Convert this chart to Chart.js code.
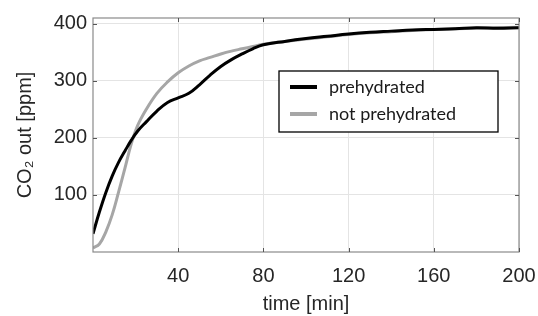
<!DOCTYPE html>
<html><head><meta charset="utf-8">
<script src="https://cdn.jsdelivr.net/npm/chart.js@4/dist/chart.umd.min.js"></script>
<style>html,body{margin:0;padding:0;background:#fff}#w{width:538px;height:316px}</style>
</head><body><div id="w"><canvas id="c" width="538" height="316"></canvas></div>
<script>
const time = [0,3,6,9,12,15,18,21,25,30,35,40,45,50,55,60,65,70,75,80,90,100,110,120,130,140,150,160,170,180,190,200];
const prehydrated = [32,70,104,133,157,177,196,212,228,247,262,270,278,293,310,325,337,347,356,363,369,374,378,382,385,387,389,390,391,393,392,393];
const notPrehydrated = [7,14,35,65,105,147,190,222,250,278,298,314,326,335,341,347,352,356,360,364,369,373,377,381,384,386,388,390,391,392,393,394];
const xTicks = [40,80,120,160,200];
const yTicks = [100,200,300,400];
const seriesNames = ['prehydrated','not prehydrated'];
const seriesColors = ['#000000','#a6a6a6'];

const toPts = v => time.map((t,i)=>({x:t,y:v[i]}));

const frame = {
  id:'frame',
  afterDraw(ch){
    const {ctx, chartArea:a, scales:{x,y}} = ch;
    ctx.save();
    ctx.strokeStyle='#8a8a8a'; ctx.lineWidth=1.2;
    ctx.strokeRect(a.left,a.top,a.right-a.left,a.bottom-a.top);
    ctx.strokeStyle='#555'; ctx.lineWidth=1;
    xTicks.forEach(t=>{const px=Math.round(x.getPixelForValue(t))+0.5;
      ctx.beginPath();ctx.moveTo(px,a.bottom);ctx.lineTo(px,a.bottom-4);ctx.moveTo(px,a.top);ctx.lineTo(px,a.top+4);ctx.stroke();});
    yTicks.forEach(t=>{const py=Math.round(y.getPixelForValue(t))+0.5;
      ctx.beginPath();ctx.moveTo(a.left,py);ctx.lineTo(a.left+4,py);ctx.moveTo(a.right,py);ctx.lineTo(a.right-4,py);ctx.stroke();});
    // legend
    const lx=a.left+186, ly=a.top+53, lw=219, lh=61;
    ctx.fillStyle='#fff'; ctx.fillRect(lx,ly,lw,lh);
    ctx.strokeStyle='#000'; ctx.lineWidth=1.3; ctx.strokeRect(lx,ly,lw,lh);
    ctx.font='18px Lato'; ctx.textBaseline='middle'; ctx.textAlign='left';
    ch.data.datasets.forEach((d,i)=>{
      const cy=ly+16+i*27;
      ctx.strokeStyle=d.borderColor; ctx.lineWidth=4;
      ctx.beginPath();ctx.moveTo(lx+11,cy);ctx.lineTo(lx+38,cy);ctx.stroke();
      ctx.fillStyle='#1a1a1a'; ctx.fillText(d.label,lx+50,cy);
    });
    ctx.restore();
  }
};

new Chart(document.getElementById('c'),{
  type:'line',
  data:{datasets:[
    {label:seriesNames[0],data:toPts(prehydrated),borderColor:seriesColors[0],borderWidth:3,pointRadius:0,tension:0.4,fill:false},
    {label:seriesNames[1],data:toPts(notPrehydrated),borderColor:seriesColors[1],borderWidth:3,pointRadius:0,tension:0.4,fill:false}
  ]},
  options:{
    responsive:false,animation:false,
    layout:{padding:{left:13,right:0,top:17,bottom:0}},
    plugins:{legend:{display:false},tooltip:{enabled:false}},
    scales:{
      x:{type:'linear',min:0,max:200,
        afterBuildTicks(s){s.ticks=xTicks.map(v=>({value:v}));},
        afterFit(s){s.height=64;s.paddingRight=19;s.paddingLeft=0;},
        grid:{color:'#e4e4e4',drawTicks:false},border:{display:false},
        ticks:{padding:12,color:'#262626',font:{family:'Liberation Sans',size:20},maxRotation:0},
        title:{display:true,text:'time [min]',color:'#262626',font:{family:'Liberation Sans',size:20},padding:{top:4,bottom:0}}
      },
      y:{type:'linear',min:0,max:410,
        afterBuildTicks(s){s.ticks=yTicks.map(v=>({value:v}));},
        afterFit(s){s.width=80;},
        grid:{color:'#e4e4e4',drawTicks:false},border:{display:false},
        ticks:{padding:6,color:'#262626',font:{family:'Liberation Sans',size:20}},
        title:{display:true,text:'CO₂ out [ppm]',color:'#262626',font:{family:'Liberation Sans',size:20},padding:{top:0,bottom:0}}
      }
    }
  },
  plugins:[frame]
});
</script></body></html>
